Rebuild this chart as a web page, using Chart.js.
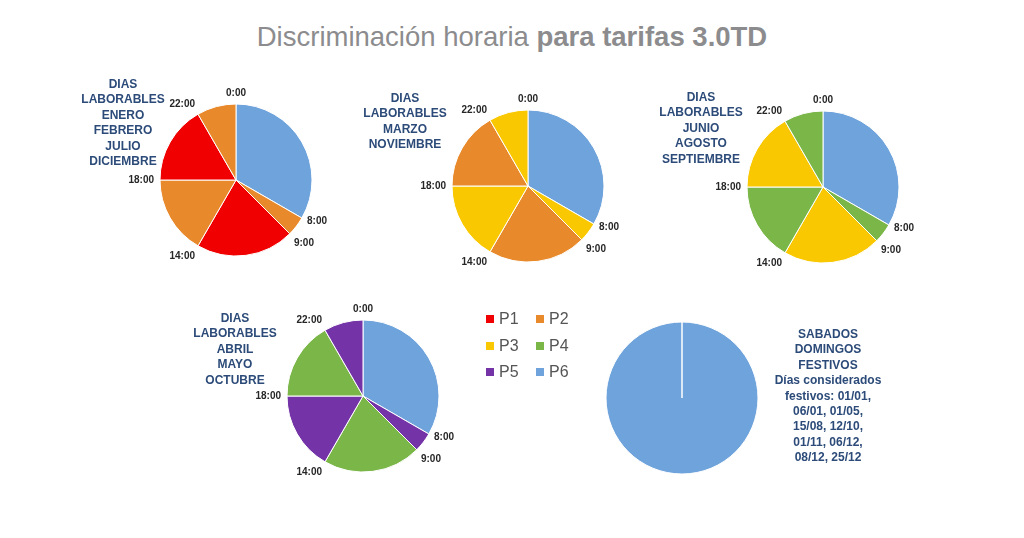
<!DOCTYPE html>
<html>
<head>
<meta charset="utf-8">
<script src="https://cdn.jsdelivr.net/npm/chart.js@4/dist/chart.umd.min.js"></script>
<style>
  body { margin:0; background:#fff; font-family:"Liberation Sans", Arial, sans-serif; }
  #wrap { position:relative; width:1024px; height:538px; overflow:hidden; }
  #titulo { position:absolute; left:0; width:1024px; top:21px; text-align:center; font-size:27.5px; color:#8c8c8e; }
  #titulo b { font-weight:bold; }
  .pie { position:absolute; }
  .txt { position:absolute; text-align:center; font-weight:bold; color:#2c4b79; font-size:12px; line-height:15.4px; transform:translateX(-50%); white-space:nowrap; }
  #leyenda { position:absolute; left:486px; top:309px; width:110px; }
  .item { position:absolute; font-size:16px; color:#555555; height:20px; line-height:20px; }
  .item i { display:inline-block; width:8px; height:8px; margin-right:5px; vertical-align:1px; }
</style>
</head>
<body>
<div id="wrap">
  <div id="titulo">Discriminación horaria <b>para tarifas 3.0TD</b></div>
</div>
<script>
// tramos horarios del dia (inicio de cada tramo y duracion en horas)
const horas = ['0:00', '8:00', '9:00', '14:00', '18:00', '22:00'];
const duraciones = [8, 1, 5, 4, 4, 2];

const periodos = ['P1', 'P2', 'P3', 'P4', 'P5', 'P6'];
const colores = ['#f00000', '#e8892b', '#f9c800', '#7ab648', '#7434a8', '#6fa3dc'];

// periodo de cada tramo para cada grupo de meses
const tramosEnero = ['P6', 'P2', 'P1', 'P2', 'P1', 'P2'];
const tramosMarzo = ['P6', 'P3', 'P2', 'P3', 'P2', 'P3'];
const tramosJunio = ['P6', 'P4', 'P3', 'P4', 'P3', 'P4'];
const tramosAbril = ['P6', 'P5', 'P4', 'P5', 'P4', 'P5'];
const tramosFestivos = ['P6'];
const duracionFestivos = [24];

const textoEnero = ['DIAS', 'LABORABLES', 'ENERO', 'FEBRERO', 'JULIO', 'DICIEMBRE'];
const textoMarzo = ['DIAS', 'LABORABLES', 'MARZO', 'NOVIEMBRE'];
const textoJunio = ['DIAS', 'LABORABLES', 'JUNIO', 'AGOSTO', 'SEPTIEMBRE'];
const textoAbril = ['DIAS', 'LABORABLES', 'ABRIL', 'MAYO', 'OCTUBRE'];
const textoFestivos = ['SABADOS', 'DOMINGOS', 'FESTIVOS', 'Días considerados', 'festivos: 01/01,',
                       '06/01, 01/05,', '15/08, 12/10,', '01/11, 06/12,', '08/12, 25/12'];

const wrap = document.getElementById('wrap');
const SIZE = 240, RADIO = 76;

// etiquetas de hora en el inicio de cada sector
const etiquetasHora = {
  id: 'etiquetasHora',
  afterDraw(chart, args, opts) {
    if (!opts.show) return;
    const ctx = chart.ctx;
    const meta = chart.getDatasetMeta(0);
    ctx.save();
    ctx.font = 'bold 10px "Liberation Sans", Arial, sans-serif';
    ctx.fillStyle = '#262626';
    meta.data.forEach(function(arc, i) {
      const a = arc.startAngle;
      const r = arc.outerRadius + 6;
      const dx = Math.cos(a), dy = Math.sin(a);
      ctx.textAlign = dx > 0.2 ? 'left' : (dx < -0.2 ? 'right' : 'center');
      ctx.textBaseline = dy < -0.6 ? 'bottom' : (dy > 0.6 ? 'top' : 'middle');
      ctx.fillText(horas[i], arc.x + r * dx, arc.y + r * dy);
    });
    ctx.restore();
  }
};

function colorDe(p) { return colores[periodos.indexOf(p)]; }

function crearPie(cx, cy, tramos, valores, conHoras) {
  const c = document.createElement('canvas');
  c.className = 'pie';
  c.width = SIZE; c.height = SIZE;
  c.style.left = (cx - SIZE / 2) + 'px';
  c.style.top = (cy - SIZE / 2) + 'px';
  c.style.width = SIZE + 'px'; c.style.height = SIZE + 'px';
  wrap.appendChild(c);
  return new Chart(c, {
    type: 'pie',
    data: {
      labels: tramos,
      datasets: [{
        data: valores,
        backgroundColor: tramos.map(colorDe),
        borderColor: '#ffffff',
        borderWidth: 1
      }]
    },
    options: {
      responsive: false,
      animation: false,
      radius: RADIO,
      layout: { padding: 0 },
      plugins: {
        legend: { display: false },
        tooltip: { enabled: false },
        etiquetasHora: { show: conHoras }
      }
    },
    plugins: [etiquetasHora]
  });
}

function crearTexto(cx, top, lineas) {
  const d = document.createElement('div');
  d.className = 'txt';
  d.style.left = cx + 'px';
  d.style.top = top + 'px';
  d.innerHTML = lineas.join('<br>');
  wrap.appendChild(d);
}

crearPie(236, 180, tramosEnero, duraciones, true);
crearPie(528, 186, tramosMarzo, duraciones, true);
crearPie(823, 187, tramosJunio, duraciones, true);
crearPie(363, 396, tramosAbril, duraciones, true);
crearPie(682, 398, tramosFestivos, duracionFestivos, false);

crearTexto(123, 77, textoEnero);
crearTexto(405, 91, textoMarzo);
crearTexto(701, 90, textoJunio);
crearTexto(235, 311, textoAbril);
crearTexto(828, 327, textoFestivos);

// leyenda en dos columnas
const ley = document.createElement('div');
ley.id = 'leyenda';
periodos.forEach(function(p, i) {
  const it = document.createElement('div');
  it.className = 'item';
  it.style.left = (i % 2) * 50 + 'px';
  it.style.top = Math.floor(i / 2) * 26.5 + 'px';
  it.innerHTML = '<i style="background:' + colores[i] + '"></i>' + p;
  ley.appendChild(it);
});
wrap.appendChild(ley);
</script>
</body>
</html>
